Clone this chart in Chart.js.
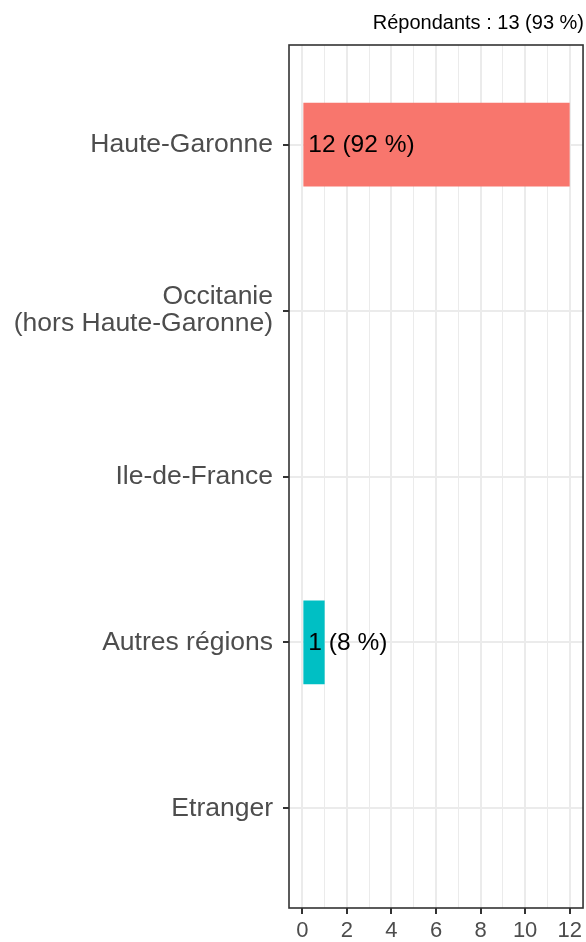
<!DOCTYPE html>
<html lang="fr">
<head>
    <meta charset="UTF-8">
    <title>Répondants</title>
    <script src="https://cdn.jsdelivr.net/npm/chart.js"></script>
    <style>
        body { margin: 0; background: #fff; }
        #chart { display: block; }
    </style>
</head>
<body>
<canvas id="chart" width="586" height="942"></canvas>
<script>
    // donnees
    const categories = ['Haute-Garonne', ['Occitanie', '(hors Haute-Garonne)'], 'Ile-de-France', 'Autres régions', 'Etranger'];
    const counts = [12, 0, 0, 1, 0];
    const percents = [92, 0, 0, 8, 0];
    const xTicks = [0, 1, 2, 3, 4, 5, 6, 7, 8, 9, 10, 11, 12];
    const titleText = 'Répondants : 13 (93 %)';

    const barColors = ['#F8766D', '#F8766D', '#F8766D', '#00BFC4', '#00BFC4'];
    const FONT = "'Liberation Sans', Arial, sans-serif";

    // libelles "n (p %)" a droite du debut de barre + cadre du panneau
    const panelPlugin = {
        id: 'panel',
        afterDatasetsDraw(chart) {
            const c = chart.ctx;
            const meta = chart.getDatasetMeta(0);
            c.save();
            c.font = '24.5px ' + FONT;
            c.fillStyle = '#000';
            c.textAlign = 'left';
            c.textBaseline = 'middle';
            meta.data.forEach((bar, i) => {
                if (counts[i] > 0) {
                    c.fillText(counts[i] + ' (' + percents[i] + '\u00a0%)', bar.base + 5, bar.y + 1);
                }
            });
            const a = chart.chartArea;
            c.strokeStyle = '#333333';
            c.lineWidth = 1.6;
            c.strokeRect(a.left, a.top, a.right - a.left, a.bottom - a.top);
            c.restore();
        }
    };

    new Chart(document.getElementById('chart').getContext('2d'), {
        type: 'bar',
        data: {
            datasets: [{
                data: counts.map((v, i) => ({x: v, y: i})),
                backgroundColor: barColors,
                borderWidth: 0,
                barPercentage: 0.505,
                categoryPercentage: 1
            }]
        },
        options: {
            indexAxis: 'y',
            responsive: false,
            animation: false,
            layout: { padding: { left: 0, right: 2, top: 0, bottom: 0 } },
            plugins: {
                legend: { display: false },
                tooltip: { enabled: false },
                title: {
                    display: true,
                    text: titleText,
                    align: 'end',
                    color: '#000',
                    font: { family: FONT, size: 20, weight: 'normal', lineHeight: 1.2 },
                    padding: { top: 11, bottom: 10 }
                }
            },
            scales: {
                x: {
                    type: 'linear',
                    min: -0.6,
                    max: 12.6,
                    afterBuildTicks: (scale) => { scale.ticks = xTicks.map(v => ({value: v})); },
                    afterFit: (scale) => { scale.height = 34; },
                    border: { display: false },
                    grid: {
                        color: '#EBEBEB',
                        lineWidth: (ctx) => (ctx.tick && ctx.tick.value % 2 === 0) ? 2 : 1,
                        tickColor: (ctx) => (ctx.tick && ctx.tick.value % 2 === 0) ? '#333333' : 'rgba(0,0,0,0)',
                        tickWidth: 2,
                        tickLength: 6
                    },
                    ticks: {
                        autoSkip: false,
                        maxRotation: 0,
                        color: '#4D4D4D',
                        padding: 4,
                        font: { family: FONT, size: 22 },
                        callback: (v) => v % 2 === 0 ? String(v) : ''
                    }
                },
                y: {
                    type: 'linear',
                    reverse: true,
                    offset: false,
                    min: -0.6,
                    max: 4.6,
                    afterBuildTicks: (scale) => { scale.ticks = categories.map((c, i) => ({value: i})); },
                    afterFit: (scale) => { scale.width = 289; },
                    border: { display: false },
                    grid: {
                        offset: false,
                        color: '#EBEBEB',
                        lineWidth: 2,
                        tickColor: '#333333',
                        tickWidth: 2,
                        tickLength: 6
                    },
                    ticks: {
                        autoSkip: false,
                        color: '#4D4D4D',
                        padding: 10,
                        font: { family: FONT, size: 26.5, lineHeight: 1.02 },
                        callback: (v) => categories[v]
                    }
                }
            }
        },
        plugins: [panelPlugin]
    });
</script>
</body>
</html>
